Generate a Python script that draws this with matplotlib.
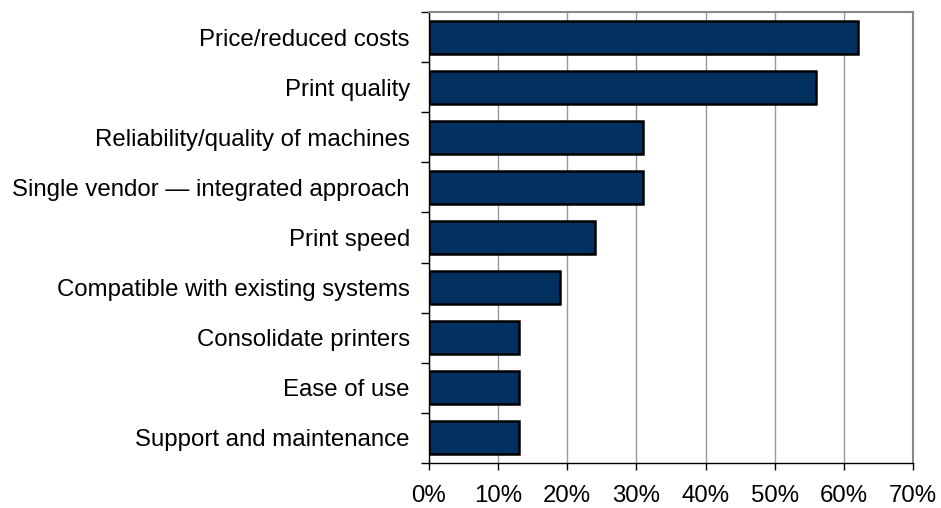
import matplotlib
matplotlib.use("Agg")
import matplotlib.pyplot as plt
from matplotlib.ticker import FuncFormatter, FixedLocator, NullFormatter

plt.rcParams['font.family'] = ['Liberation Sans', 'DejaVu Sans']

categories = [
    "Price/reduced costs",
    "Print quality",
    "Reliability/quality of machines",
    "Single vendor \u2014 integrated approach",
    "Print speed",
    "Compatible with existing systems",
    "Consolidate printers",
    "Ease of use",
    "Support and maintenance",
]
values = [62, 56, 31, 31, 24, 19, 13, 13, 13]
xticks = [0, 10, 20, 30, 40, 50, 60, 70]

fig = plt.figure(figsize=(9.41, 5.08), dpi=100)
ax = fig.add_axes([429/941, 1 - 463/508, (913-429)/941, (463-12)/508])

n = len(categories)
ypos = list(range(n))
ax.barh(ypos, values, height=0.66, color="#02305F", edgecolor="black", linewidth=1.8, zorder=3)
ax.set_ylim(n - 0.5, -0.5)
ax.set_xlim(0, 70)
ax.set_yticks(ypos)
ax.set_yticklabels(categories, fontsize=17.3)
ax.tick_params(axis='y', length=0, pad=13.7)
ax.yaxis.set_minor_locator(FixedLocator([i - 0.5 for i in range(n + 1)]))
ax.yaxis.set_minor_formatter(NullFormatter())
ax.tick_params(axis='y', which='minor', length=5.5, width=1, color='black', direction='out')

ax.set_xticks(xticks)
ax.xaxis.set_major_formatter(FuncFormatter(lambda v, p: f"{int(v)}%"))
ax.tick_params(axis='x', length=5, width=1, direction='out', labelsize=17.3, pad=11)
ax.grid(axis='x', color='#999999', linewidth=1, zorder=0)

for s in ['left', 'bottom']:
    ax.spines[s].set_color('black')
    ax.spines[s].set_linewidth(1)
for s in ['top', 'right']:
    ax.spines[s].set_color('#888888')
    ax.spines[s].set_linewidth(1.5)

fig.savefig("out.png", dpi=100)
